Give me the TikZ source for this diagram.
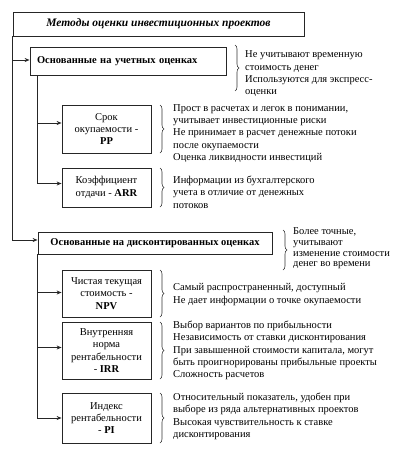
\documentclass[tikz,border=0pt]{standalone}
\usepackage{fontspec}
\setmainfont{Liberation Serif}
\newfontfamily\tnr{Liberation Serif}
\usetikzlibrary{decorations.pathreplacing,arrows.meta}
\begin{document}
\begin{tikzpicture}[x=1pt,y=-1pt,
  every node/.style={font=\tnr\fontsize{10.5}{12.3}\selectfont},
  box/.style={draw=black!85,line width=0.8pt,align=center,inner sep=0pt},
  desc/.style={align=left,inner sep=0pt,anchor=west},
  conn/.style={draw=black!85,line width=0.9pt,-{Stealth[length=5pt,width=4pt]}},
  brc/.style={draw=black!80,line width=0.6pt,decorate,decoration={brace,amplitude=4pt}}]
\useasboundingbox (0,0) rectangle (405,450);
\node[box,minimum width=291pt,minimum height=24pt,font=\tnr\fontsize{11.5}{13}\selectfont\bfseries\itshape] (title) at (158.5,24) {Методы оценки инвестиционных проектов};
\node[box,text width=182pt,inner xsep=7pt,align=left,minimum height=28pt,font=\tnr\fontsize{10.5}{12}\selectfont\bfseries] (b1) at (128,61) {Основанные на учетных оценках};
\node[box,minimum width=89pt,minimum height=48pt] (pp) at (106.5,129) {Срок\\окупаемости -\\\textbf{PP}};
\node[box,minimum width=89pt,minimum height=39pt] (arr) at (106.5,187.5) {Коэффициент\\отдачи - \textbf{ARR}};
\node[box,minimum width=234pt,minimum height=22pt,font=\tnr\fontsize{10.5}{12}\selectfont\bfseries] (b2) at (155,243) {Основанные на дисконтированных оценках};
\node[box,minimum width=89pt,minimum height=47pt] (npv) at (106.5,293.5) {Чистая текущая\\стоимость -\\\textbf{NPV}};
\node[box,minimum width=89pt,minimum height=57pt] (irr) at (106.5,350.5) {Внутренняя\\норма\\рентабельности\\- \textbf{IRR}};
\node[box,minimum width=89pt,minimum height=50pt] (pi) at (106.5,418) {Индекс\\рентабельности\\- \textbf{PI}};
% connectors
\draw[conn] (title.south west) |- ([yshift=1pt]b1.west);
\draw[conn] (title.south west) |- ([yshift=3pt]b2.west);
\draw[conn] ([xshift=8pt]b1.south west) |- ([yshift=6pt]pp.west);
\draw[conn] ([xshift=8pt]b1.south west) |- ([yshift=4pt]arr.west);
\draw[conn] (b2.south west) |- ([yshift=1pt]npv.west);
\draw[conn] (b2.south west) |- ([yshift=3pt]irr.west);
\draw[conn] (b2.south west) |- (pi.west);
% braces and descriptions
\draw[brc] (235,45) -- (235,91);
\node[desc] (t1) at (245,74) {Не учитывают временную\\стоимость денег\\Используются для экспресс-\\оценки};
\draw[brc] (160,105) -- (160,153);
\node[desc] (t2) at (173,133.5) {Прост в расчетах и легок в понимании,\\учитывает инвестиционные риски\\Не принимает в расчет денежные потоки\\после окупаемости\\Оценка ликвидности инвестиций};
\draw[brc] (160,168) -- (160,207);
\node[desc] (t3) at (173,192) {Информации из бухгалтерского\\учета в отличие от денежных\\потоков};
\draw[brc] (283,230) -- (283,270);
\node[desc,font=\tnr\fontsize{10.5}{10.7}\selectfont] (t4) at (293,248.5) {Более точные,\\учитывают\\изменение стоимости\\денег во времени};
\draw[brc] (160,270) -- (160,317);
\node[desc] (t5) at (173,294.5) {Самый распространенный, доступный\\Не дает информации о точке окупаемости};
\draw[brc] (160,322) -- (160,379);
\node[desc] (t6) at (173,350.5) {Выбор вариантов по прибыльности\\Независимость от ставки дисконтирования\\При завышенной стоимости капитала, могут\\быть проигнорированы прибыльные проекты\\Сложность расчетов};
\draw[brc] (160,393) -- (160,443);
\node[desc] (t7) at (173,416.5) {Относительный показатель, удобен при\\выборе из ряда альтернативных проектов\\Высокая чувствительность к ставке\\дисконтирования};
\end{tikzpicture}
\end{document}
